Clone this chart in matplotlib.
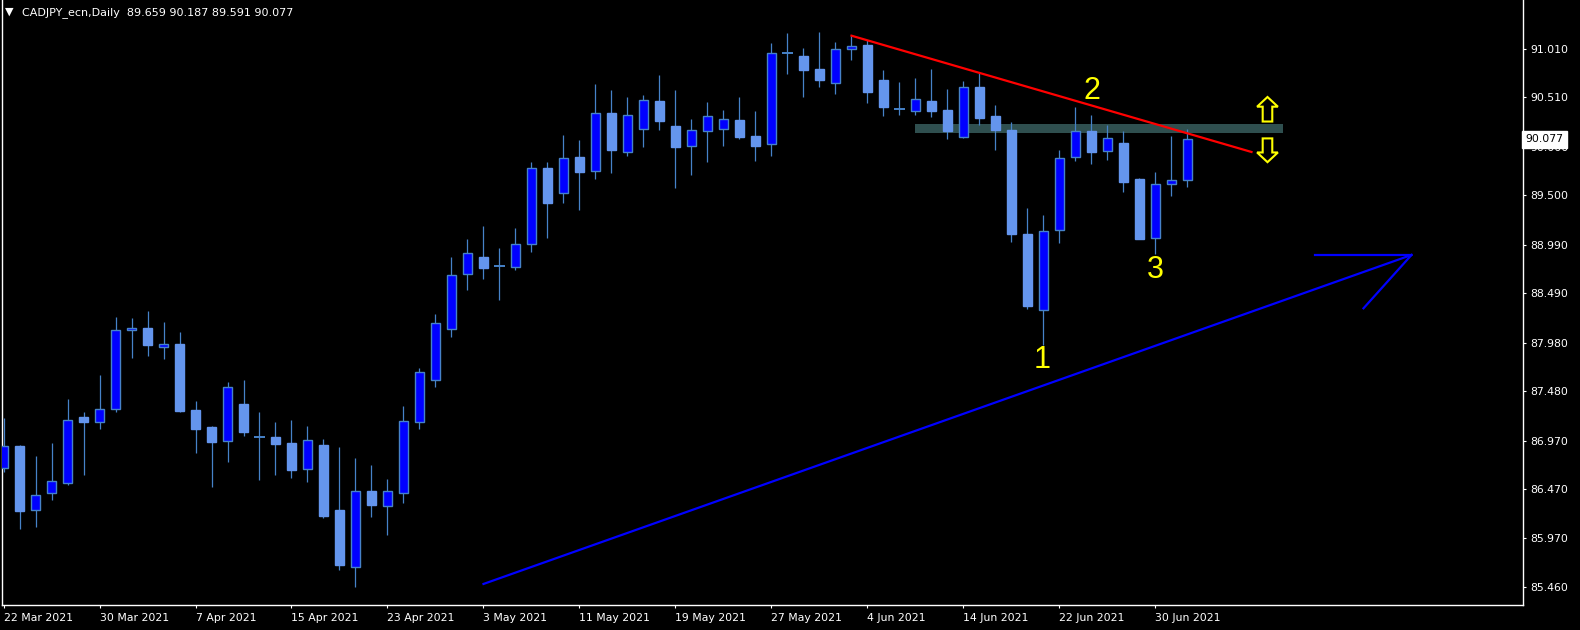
import numpy as np
import matplotlib.pyplot as plt
from matplotlib.patches import Rectangle, FancyArrow

# daily OHLC, CADJPY, 22 Mar 2021 .. 2 Jul 2021
opens = [86.687, 86.917, 86.254, 86.429, 86.538, 87.216, 87.167, 87.295, 88.110, 88.133,
         87.941, 87.968, 87.288, 87.113, 86.965, 87.350, 87.006, 87.009, 86.948, 86.676,
         86.927, 86.257, 85.666, 86.453, 86.301, 86.429, 87.161, 87.594, 88.120, 88.687,
         88.865, 88.776, 88.759, 88.996, 89.783, 89.522, 89.896, 89.749, 90.347, 89.945,
         90.182, 90.474, 90.216, 90.007, 90.161, 90.182, 90.278, 90.113, 90.027, 90.972,
         90.938, 90.801, 90.656, 91.007, 91.051, 90.687, 90.394, 90.368, 90.474, 90.381,
         90.099, 90.618, 90.316, 90.172, 89.103, 88.316, 89.141, 89.893, 90.164, 89.955,
         90.041, 89.670, 89.058, 89.615, 89.659]
highs = [87.205, 86.927, 86.814, 86.948, 87.401, 87.267, 87.649, 88.247, 88.236, 88.309,
         88.195, 88.092, 87.381, 87.123, 87.577, 87.597, 87.267, 87.164, 87.185, 87.123,
         86.989, 86.907, 86.793, 86.721, 86.577, 87.329, 87.718, 88.278, 88.865, 89.051,
         89.185, 88.958, 89.164, 89.842, 89.842, 90.123, 90.072, 90.649, 90.587, 90.512,
         90.536, 90.742, 90.587, 90.288, 90.463, 90.381, 90.515, 90.371, 91.072, 91.175,
         91.017, 91.182, 91.079, 91.144, 91.103, 90.793, 90.670, 90.708, 90.801, 90.594,
         90.680, 90.759, 90.432, 90.257, 89.367, 89.298, 89.969, 90.412, 90.329, 90.226,
         90.164, 89.680, 89.742, 90.113, 90.187]
lows = [86.652, 86.061, 86.082, 86.360, 86.515, 86.618, 87.095, 87.270, 87.824, 87.845,
        87.814, 87.270, 86.845, 86.497, 86.755, 87.023, 86.569, 86.621, 86.590, 86.549,
        86.178, 85.641, 85.463, 86.185, 85.999, 86.332, 87.095, 87.528, 88.041, 88.528,
        88.642, 88.425, 88.734, 88.920, 89.061, 89.425, 89.353, 89.673, 89.734, 89.910,
        90.003, 90.178, 89.580, 89.714, 89.848, 90.013, 90.085, 89.858, 89.910, 90.752,
        90.518, 90.621, 90.549, 90.899, 90.456, 90.322, 90.332, 90.332, 90.312, 90.085,
        90.090, 90.229, 89.969, 89.023, 88.332, 87.958, 89.013, 89.858, 89.827, 89.869,
        89.536, 89.050, 88.899, 89.497, 89.591]
closes = [86.917, 86.250, 86.408, 86.553, 87.182, 87.167, 87.295, 88.110, 88.130, 87.958,
          87.965, 87.278, 87.095, 86.961, 87.522, 87.064, 87.006, 86.940, 86.672, 86.976,
          86.198, 85.690, 86.450, 86.312, 86.450, 87.171, 87.677, 88.182, 88.677, 88.903,
          88.755, 88.776, 88.996, 89.780, 89.425, 89.883, 89.745, 90.347, 89.972, 90.326,
          90.481, 90.271, 90.003, 90.172, 90.316, 90.285, 90.106, 90.013, 90.965, 90.972,
          90.796, 90.693, 91.013, 91.038, 90.570, 90.415, 90.394, 90.497, 90.374, 90.167,
          90.615, 90.298, 90.178, 89.106, 88.363, 89.130, 89.883, 90.161, 89.951, 90.089,
          89.642, 89.051, 89.615, 89.656, 90.077]

date_labels = ['22 Mar 2021', '30 Mar 2021', '7 Apr 2021', '15 Apr 2021', '23 Apr 2021',
               '3 May 2021', '11 May 2021', '19 May 2021', '27 May 2021', '4 Jun 2021',
               '14 Jun 2021', '22 Jun 2021', '30 Jun 2021']
price_ticks = [85.460, 85.970, 86.470, 86.970, 87.480, 87.980, 88.490,
               88.990, 89.500, 90.000, 90.510, 91.010]

# drawn objects (bar index, price)
red_line = ([53, 78], [91.147, 89.948])
blue_line = ([30, 88], [85.494, 88.886])
blue_head_h = ([82, 88], [88.886, 88.886])
blue_head_d = ([85, 88], [88.336, 88.886])
zone = (57.0, 79.95, 90.142, 90.239)
labels_123 = [('1', 64.9, 87.80), ('2', 68.0, 90.58), ('3', 72.0, 88.73)]
last_price = 90.077

bull_col = '#0000FF'
bear_col = '#6495ED'
wick_col = '#4682C8'

fig = plt.figure(figsize=(15.8, 6.3), dpi=100, facecolor='black')
ax = fig.add_axes([2/1580, 25/630, 1521/1580, 605/630])
ax.set_facecolor('black')

n = len(opens)
idx = np.arange(n)
ax.vlines(idx, lows, highs, color=wick_col, lw=0.9, zorder=2)
for i in range(n):
    o, c = opens[i], closes[i]
    if abs(c - o) < 1e-6:
        ax.hlines(o, i - 0.32, i + 0.32, color=wick_col, lw=1.4, zorder=3)
        continue
    if c > o:
        ax.add_patch(Rectangle((i - 0.31, o), 0.62, c - o, facecolor=bull_col,
                               edgecolor=wick_col, lw=1.0, zorder=3))
    else:
        ax.add_patch(Rectangle((i - 0.31, c), 0.62, o - c, facecolor=bear_col,
                               edgecolor=bear_col, lw=1.0, zorder=3))

# resistance zone
ax.add_patch(Rectangle((zone[0], zone[2]), zone[1] - zone[0], zone[3] - zone[2],
                       facecolor='#2F4F4F', edgecolor='none', zorder=1))

ax.plot(red_line[0], red_line[1], color='#FF0000', lw=1.6, zorder=4)
ax.plot(blue_line[0], blue_line[1], color='#0000FF', lw=1.6, zorder=4)
ax.plot(blue_head_h[0], blue_head_h[1], color='#0000FF', lw=1.6, zorder=4)
ax.plot(blue_head_d[0], blue_head_d[1], color='#0000FF', lw=1.6, zorder=4)

# up / down arrows
ax.add_patch(FancyArrow(79.0, 90.262, 0, 0.253, width=0.6, head_width=1.3, head_length=0.10,
                        length_includes_head=True, facecolor='black', edgecolor='#FFFF00',
                        lw=1.5, zorder=5))
ax.add_patch(FancyArrow(79.0, 90.088, 0, -0.245, width=0.6, head_width=1.3, head_length=0.10,
                        length_includes_head=True, facecolor='black', edgecolor='#FFFF00',
                        lw=1.5, zorder=5))

for txt, x, y in labels_123:
    ax.text(x, y, txt, color='#FFFF00', fontsize=22, family='Liberation Sans',
            ha='center', va='center', zorder=6)

ax.set_xlim(-0.094, 94.97)
ax.set_ylim(85.277, 91.515)

ax.set_xticks(np.arange(0, 6 * len(date_labels), 6))
ax.set_xticklabels(date_labels, ha='left')
ax.yaxis.tick_right()
ax.set_yticks(price_ticks)
ax.set_yticklabels(['%.3f' % v for v in price_ticks])
ax.tick_params(colors='white', labelsize=7.8, length=2.5, width=0.8, pad=3)
ax.tick_params(axis='x', pad=3.5)

for side in ['left', 'bottom', 'right']:
    ax.spines[side].set_color('white')
    ax.spines[side].set_linewidth(1.0)
ax.spines['top'].set_visible(False)

ax.text(1.0015, last_price, '%.3f' % last_price, transform=ax.get_yaxis_transform(),
        color='black', fontsize=7.8, va='center', ha='left', clip_on=False, zorder=10,
        bbox=dict(boxstyle='square,pad=0.3', facecolor='white', edgecolor='white'))

fig.text(5/1580, 1 - 12/630, '\u25bc', color='white', fontsize=8, va='center', ha='left')
fig.text(22/1580, 1 - 12.5/630, 'CADJPY_ecn,Daily  89.659 90.187 89.591 90.077',
         color='white', fontsize=8, va='center', ha='left')

fig.savefig('out.png', dpi=100, facecolor='black')
